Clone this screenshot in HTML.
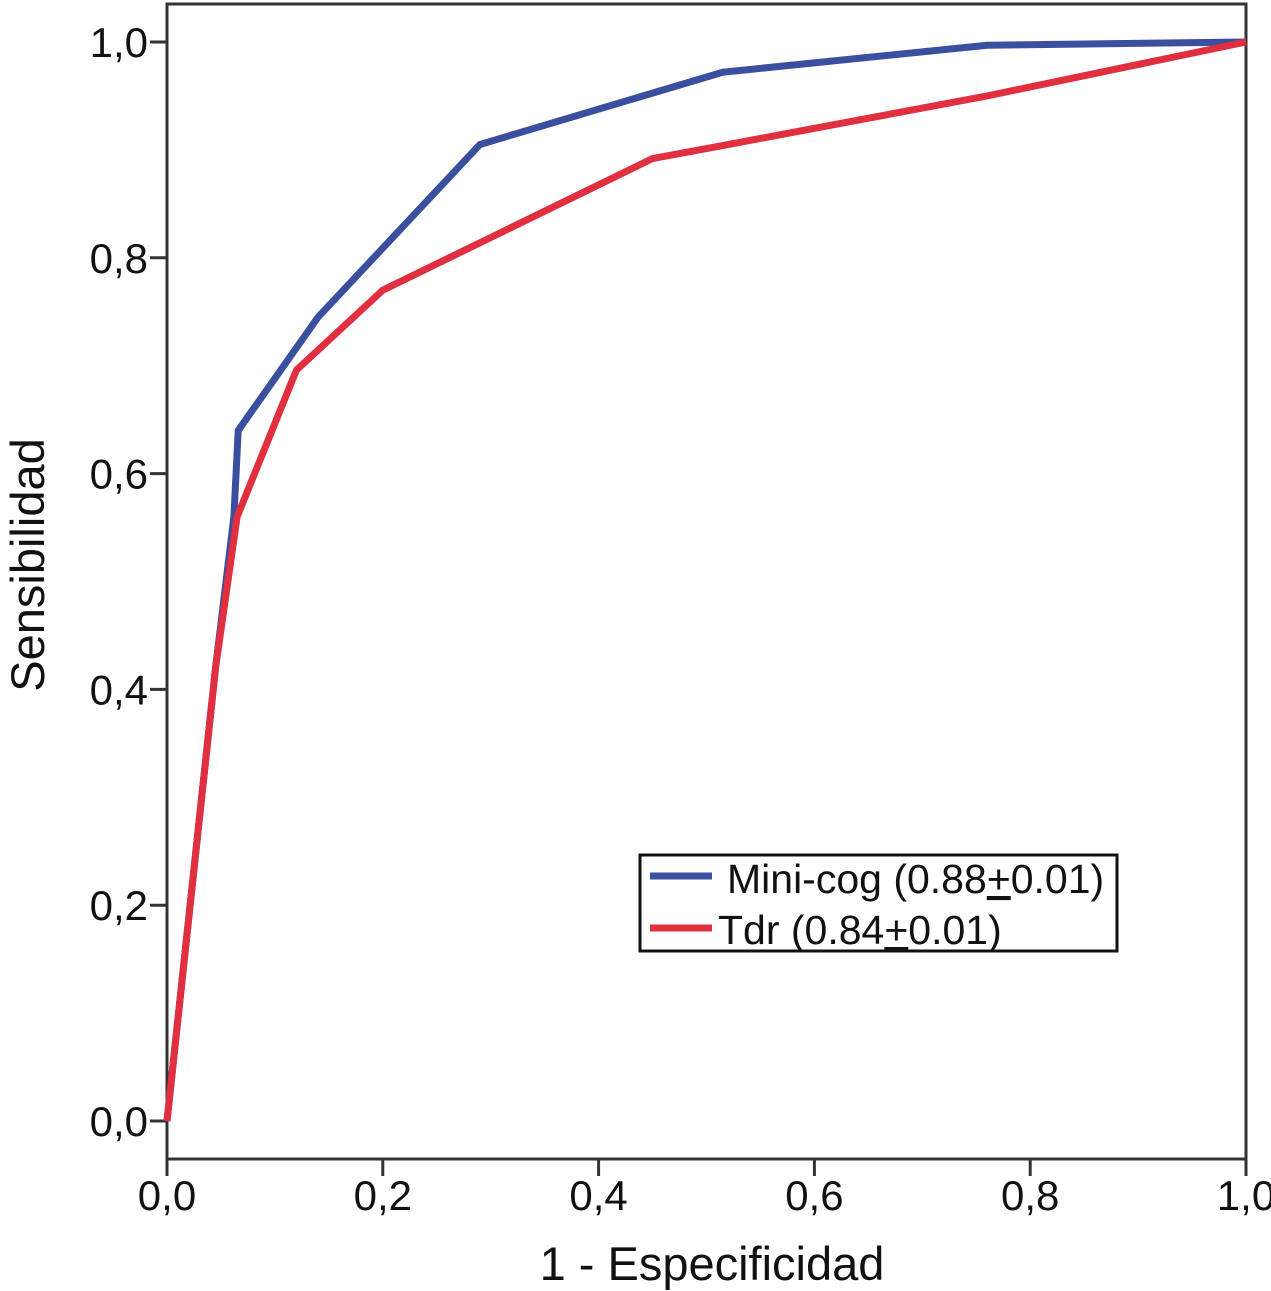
<!DOCTYPE html>
<html><head><meta charset="utf-8"><style>
body{margin:0;background:#fff}
svg{display:block;font-family:"Liberation Sans",Arial,sans-serif}
</style></head><body>
<svg id="chart" width="1271" height="1291" viewBox="0 0 1271 1291">
<rect x="167" y="4" width="1079" height="1155" fill="none" stroke="#333" stroke-width="3"/>
<g id="axes"></g>
<g id="series"></g>
<text x="712" y="1280" font-size="47" text-anchor="middle" fill="#111">1 - Especificidad</text>
<text transform="translate(44,565) rotate(-90)" font-size="47" text-anchor="middle" fill="#111">Sensibilidad</text>
<g>
<rect x="640" y="855" width="477" height="96" fill="#fff" stroke="#111" stroke-width="3"/>
<line x1="650" y1="876" x2="712" y2="876" stroke="#3a4fa0" stroke-width="7"/>
<text x="727" y="893" font-size="41" fill="#111">Mini-cog (0.88<tspan text-decoration="underline">+</tspan>0.01)</text>
<line x1="650" y1="928" x2="712" y2="928" stroke="#e03040" stroke-width="7"/>
<text x="718" y="944" font-size="41" fill="#111">Tdr (0.84<tspan text-decoration="underline">+</tspan>0.01)</text>
</g>
</svg>
<script>
const tickValues=[0,0.2,0.4,0.6,0.8,1.0];
const tickLabels=["0,0","0,2","0,4","0,6","0,8","1,0"];
const miniX=[0,0.045,0.062,0.066,0.14,0.29,0.515,0.76,1];
const miniY=[0,0.42,0.56,0.64,0.745,0.905,0.972,0.997,1];
const tdrX=[0,0.045,0.065,0.12,0.2,0.45,0.52,0.76,1];
const tdrY=[0,0.42,0.56,0.696,0.77,0.892,0.905,0.95,1];
const X0=167,X1=1246,Y0=1121,Y1=42;
const sx=v=>X0+(X1-X0)*v, sy=v=>Y0-(Y0-Y1)*v;
const NS="http://www.w3.org/2000/svg";
const axes=document.getElementById('axes'), ser=document.getElementById('series');
function mk(tag,attrs,parent){const e=document.createElementNS(NS,tag);for(const k in attrs)e.setAttribute(k,attrs[k]);parent.appendChild(e);return e;}
tickValues.forEach((v,i)=>{
  let t=mk('line',{x1:150,x2:167,y1:sy(v),y2:sy(v),stroke:'#333','stroke-width':3},axes);
  
  
  let l=mk('text',{x:148,y:sy(v)+15,'font-size':42,'text-anchor':'end',fill:'#111'},axes);
  l.textContent=tickLabels[i];
  
  
  let t2=mk('line',{x1:sx(v),x2:sx(v),y1:1159,y2:1176,stroke:'#333','stroke-width':3},axes);
  
  
  let l2=mk('text',{x:sx(v),y:1210,'font-size':42,'text-anchor':'middle',fill:'#111'},axes);
  l2.textContent=tickLabels[i];
  
  
});
function line(xs,ys,color,name){
  const p=mk('polyline',{points:xs.map((x,i)=>sx(x)+','+sy(ys[i])).join(' '),fill:'none',stroke:color,'stroke-width':7,'stroke-linejoin':'round'},ser);
  
  
}
line(miniX,miniY,'#3a4fa0','minicog-line');
line(tdrX,tdrY,'#e03040','tdr-line');
</script>
</body></html>
